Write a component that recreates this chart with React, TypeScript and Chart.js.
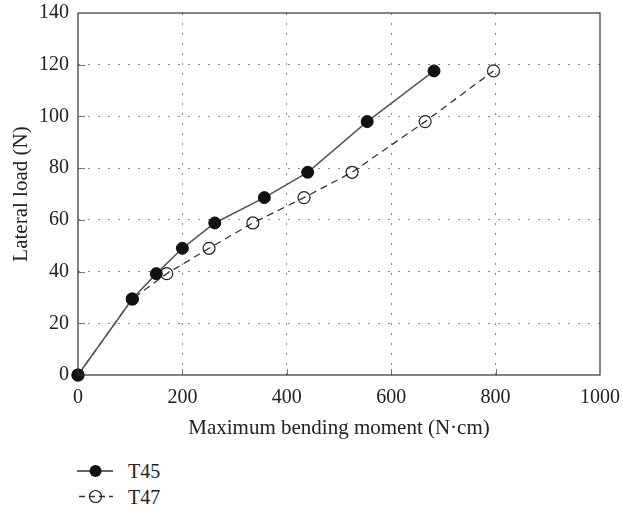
import React, { useEffect, useRef } from "react";
import { Chart, registerables } from "chart.js";

Chart.register(...registerables);

const moments45 = [0, 104, 150, 200, 262, 357, 440, 554, 682];
const loads45 = [0, 29.4, 39.2, 49, 58.8, 68.6, 78.4, 98, 117.6];
const moments47 = [0, 104, 170, 251, 335, 433, 525, 665, 796];
const loads47 = [0, 29.4, 39.2, 49, 58.8, 68.6, 78.4, 98, 117.6];
const seriesNames = ["T45", "T47"];
const xTitle = "Maximum bending moment (N·cm)";
const yTitle = "Lateral load (N)";

const FONT = "'Liberation Serif', 'DejaVu Serif', serif";

const boxPlugin = {
  id: "box",
  afterDraw(chart: any) {
    const { ctx, chartArea: a, scales } = chart;
    ctx.save();
    ctx.strokeStyle = "#777";
    ctx.lineWidth = 1;
    scales.y.ticks.forEach((t: any) => {
      if (t.value === 0 || t.value === 140) return;
      const y = Math.round(scales.y.getPixelForValue(t.value)) + 0.5;
      ctx.beginPath();
      ctx.moveTo(a.left, y);
      ctx.lineTo(a.left + 7, y);
      ctx.stroke();
    });
    scales.x.ticks.forEach((t: any) => {
      if (t.value === 0 || t.value === 1000) return;
      const x = Math.round(scales.x.getPixelForValue(t.value)) + 0.5;
      ctx.beginPath();
      ctx.moveTo(x, a.bottom);
      ctx.lineTo(x, a.bottom - 6);
      ctx.stroke();
    });
    ctx.strokeStyle = "#333";
    ctx.lineWidth = 1.2;
    ctx.strokeRect(a.left, a.top, a.right - a.left, a.bottom - a.top);
    ctx.restore();
  },
};

export default function App() {
  const ref = useRef<HTMLCanvasElement>(null);
  useEffect(() => {
    const toPts = (xs: number[], ys: number[]) => xs.map((x, i) => ({ x, y: ys[i] }));
    const gridColor = (c: any) =>
      c.tick && (c.tick.value === 0 || c.tick.value === 1000 || c.tick.value === 140)
        ? "rgba(0,0,0,0)"
        : "#8a8a8a";
    const chart = new Chart(ref.current!, {
      type: "scatter",
      data: {
        datasets: [
          {
            label: seriesNames[0],
            data: toPts(moments45, loads45),
            showLine: true,
            borderColor: "#555",
            borderWidth: 1.5,
            pointRadius: 6,
            pointBackgroundColor: "#111",
            pointBorderColor: "#111",
            pointBorderWidth: 1,
            clip: false,
          },
          {
            label: seriesNames[1],
            data: toPts(moments47, loads47),
            showLine: true,
            borderColor: "#333",
            borderWidth: 1.3,
            borderDash: [7, 5],
            pointRadius: 6,
            pointBackgroundColor: "rgba(255,255,255,0)",
            pointBorderColor: "#222",
            pointBorderWidth: 1.2,
            clip: false,
          },
        ],
      },
      options: {
        animation: false,
        responsive: false,
        layout: { autoPadding: false, padding: { top: 13, right: 23, left: 0, bottom: 0 } },
        plugins: { legend: { display: false }, tooltip: { enabled: false } },
        scales: {
          x: {
            type: "linear",
            min: 0,
            max: 1000,
            ticks: {
              stepSize: 200,
              color: "#222",
              font: { family: FONT, size: 20 },
              padding: 11,
              callback: (v: any) => String(v),
            },
            grid: { color: gridColor, lineWidth: 1, drawTicks: false },
            border: { display: false, dash: [2, 8] },
            title: { display: true, text: xTitle, color: "#222", font: { family: FONT, size: 21 }, padding: { top: 8 } },
            afterFit: (s: any) => {
              s.height = 70;
              s.paddingLeft = 0;
              s.paddingRight = 0;
            },
          },
          y: {
            type: "linear",
            min: 0,
            max: 140,
            ticks: {
              stepSize: 20,
              color: "#222",
              font: { family: FONT, size: 20 },
              padding: 9,
              callback: (v: any) => String(v),
            },
            grid: { color: gridColor, lineWidth: 1, drawTicks: false },
            border: { display: false, dash: [2, 8] },
            title: { display: true, text: yTitle, color: "#222", font: { family: FONT, size: 21 }, padding: { top: 9, bottom: 0 } },
            afterFit: (s: any) => {
              s.width = 78;
              s.paddingTop = 0;
              s.paddingBottom = 0;
            },
          },
        },
      },
      plugins: [boxPlugin],
    });
    return () => chart.destroy();
  }, []);

  const legendText: React.CSSProperties = {
    position: "absolute",
    left: 128,
    fontFamily: FONT,
    fontSize: 20,
    color: "#222",
    lineHeight: "22px",
  };

  return (
    <div style={{ position: "fixed", left: 0, top: 0, width: 623, height: 510, background: "#fff" }}>
      <canvas ref={ref} width={623} height={445} style={{ position: "absolute", left: 0, top: 0 }} />
      <svg width={130} height={60} style={{ position: "absolute", left: 0, top: 450 }}>
        <line x1={77} y1={21} x2={113} y2={21} stroke="#333" strokeWidth={1.5} />
        <circle cx={95.5} cy={21} r={6} fill="#111" />
        <line x1={79} y1={46.5} x2={113} y2={46.5} stroke="#333" strokeWidth={1.3} strokeDasharray="6 4" />
        <circle cx={95.5} cy={46.5} r={6} fill="none" stroke="#222" strokeWidth={1.2} />
      </svg>
      <div style={{ ...legendText, top: 460 }}>{seriesNames[0]}</div>
      <div style={{ ...legendText, top: 486 }}>{seriesNames[1]}</div>
    </div>
  );
}
